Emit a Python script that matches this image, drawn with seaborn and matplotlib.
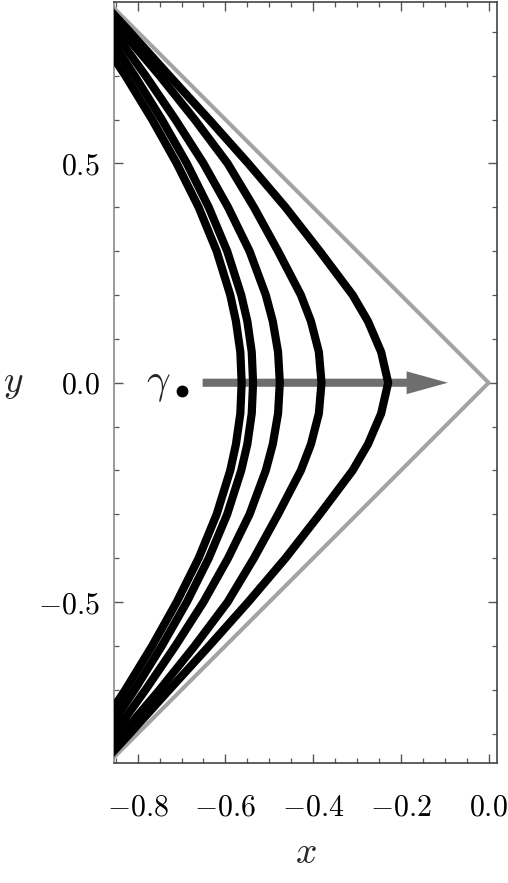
import numpy as np
import pandas as pd
import matplotlib
matplotlib.use("Agg")
import matplotlib.pyplot as plt
from matplotlib.ticker import MultipleLocator, FuncFormatter
import seaborn as sns

# ---------------- data ----------------
y_pts = [-0.9, -0.8, -0.7, -0.6, -0.5, -0.4, -0.3, -0.2, -0.14, -0.07, 0.0,
         0.07, 0.14, 0.2, 0.3, 0.4, 0.5, 0.6, 0.7, 0.8, 0.9]
curve1_x = [-0.963, -0.894, -0.828, -0.767, -0.711, -0.661, -0.620, -0.589, -0.576, -0.566, -0.563,
            -0.566, -0.576, -0.589, -0.620, -0.661, -0.711, -0.767, -0.828, -0.894, -0.963]
curve2_x = [-0.942, -0.873, -0.807, -0.745, -0.688, -0.638, -0.596, -0.564, -0.550, -0.540, -0.537,
            -0.540, -0.550, -0.564, -0.596, -0.638, -0.688, -0.745, -0.807, -0.873, -0.942]
curve3_x = [-0.929, -0.854, -0.782, -0.714, -0.650, -0.594, -0.545, -0.508, -0.492, -0.480, -0.476,
            -0.480, -0.492, -0.508, -0.545, -0.594, -0.650, -0.714, -0.782, -0.854, -0.929]
curve4_x = [-0.920, -0.835, -0.750, -0.670, -0.595, -0.535, -0.480, -0.428, -0.405, -0.387, -0.381,
            -0.387, -0.405, -0.428, -0.480, -0.535, -0.595, -0.670, -0.750, -0.835, -0.920]
curve5_x = [-0.910, -0.818, -0.728, -0.637, -0.548, -0.463, -0.385, -0.310, -0.275, -0.245, -0.229,
            -0.245, -0.275, -0.310, -0.385, -0.463, -0.548, -0.637, -0.728, -0.818, -0.910]
curves = [curve1_x, curve2_x, curve3_x, curve4_x, curve5_x]

cone_x = [-0.9, 0.0, -0.9]
cone_y = [0.9, 0.0, -0.9]

arrow_start_x = -0.652
arrow_tip_x = -0.093
arrow_y = 0.0
gamma_x, gamma_y = -0.752, 0.0
dot_x, dot_y = -0.699, -0.019

x_lim = (-0.854, 0.019)
y_lim = (-0.867, 0.868)

# ---------------- style ----------------
sns.set_theme(style="white")
plt.rcParams["font.family"] = ["DejaVu Serif"]
plt.rcParams["mathtext.fontset"] = "cm"

fig = plt.figure(figsize=(5.08, 8.83), dpi=100)
ax = fig.add_axes([0.2244, 0.1359, 0.7539, 0.8618])

df = pd.concat([pd.DataFrame({"x": cx, "y": y_pts, "curve": i})
                for i, cx in enumerate(curves)], ignore_index=True)

# light-gray cone
sns.lineplot(x=cone_x, y=cone_y, sort=False, estimator=None, color="#a3a3a3",
             lw=2.9, ax=ax, zorder=2)

# arrow
ax.arrow(arrow_start_x, arrow_y, arrow_tip_x - arrow_start_x, 0.0,
         width=0.0185, head_width=0.052, head_length=0.094,
         length_includes_head=True, color="#6e6e6e", lw=0, zorder=3)

# black curves
sns.lineplot(data=df, x="x", y="y", units="curve", estimator=None, sort=False,
             color="black", lw=5.9, ax=ax, zorder=4, legend=False)

ax.text(gamma_x, gamma_y, r"$\gamma$", fontsize=30, ha="center", va="center", zorder=5)
ax.plot([dot_x], [dot_y], "o", color="black", ms=7.5, zorder=5)

ax.set_xlim(*x_lim)
ax.set_ylim(*y_lim)

ax.xaxis.set_major_locator(MultipleLocator(0.2))
ax.xaxis.set_minor_locator(MultipleLocator(0.05))
ax.yaxis.set_major_locator(MultipleLocator(0.5))
ax.yaxis.set_minor_locator(MultipleLocator(0.1))
fmt = FuncFormatter(lambda v, p: r"$%.1f$" % (0.0 if abs(v) < 1e-9 else v))
ax.xaxis.set_major_formatter(fmt)
ax.yaxis.set_major_formatter(fmt)

ax.tick_params(which="both", direction="in", top=True, right=True,
               bottom=True, left=True, colors="#555555", labelcolor="black")
ax.tick_params(which="major", length=6.5, width=1.0, labelsize=21.5)
ax.tick_params(axis="x", which="major", pad=22)
ax.tick_params(axis="y", which="major", pad=10)
ax.tick_params(which="minor", length=3.5, width=0.9)

for side, sp in ax.spines.items():
    sp.set_color("#444444")
    sp.set_linewidth(1.2)
ax.spines["left"].set_color("#8a8a8a")

ax.set_xlabel(r"$x$", fontsize=27, labelpad=10)
ax.set_ylabel(r"$y$", fontsize=27, rotation=0, labelpad=18, va="center")

fig.savefig("out.png", dpi=100)
